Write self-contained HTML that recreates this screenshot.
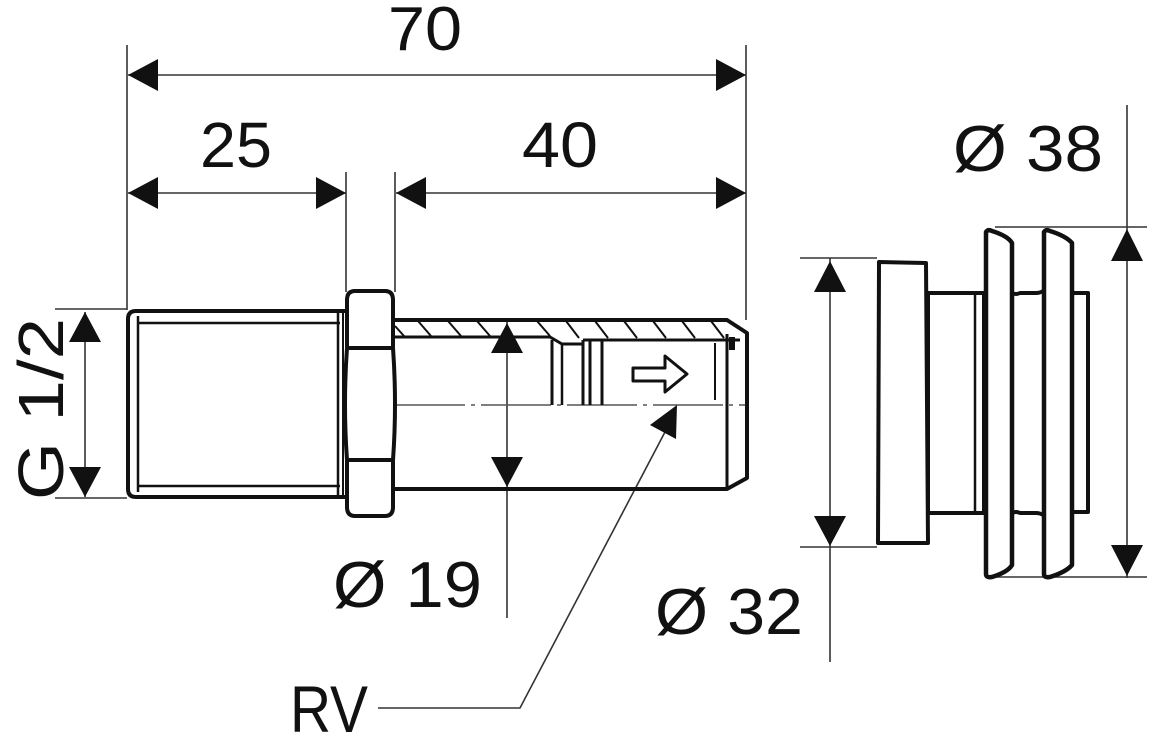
<!DOCTYPE html>
<html><head><meta charset="utf-8"><style>
html,body{margin:0;padding:0;background:#fff;}
svg{display:block;}
text{font-family:"Liberation Sans",sans-serif;fill:#111;}
</style></head><body>
<svg width="1152" height="736" viewBox="0 0 1152 736" xmlns="http://www.w3.org/2000/svg">
<rect width="1152" height="736" fill="#fff"/>
<!-- thin dimension / extension lines -->
<g stroke="#333" stroke-width="1.6" fill="none">
  <line x1="127" y1="45" x2="127" y2="310"/>
  <line x1="746" y1="45" x2="746" y2="320"/>
  <line x1="346" y1="172" x2="346" y2="292"/>
  <line x1="395" y1="172" x2="395" y2="292"/>
  <line x1="128" y1="75" x2="746" y2="75"/>
  <line x1="128" y1="193" x2="346" y2="193"/>
  <line x1="396" y1="193" x2="746" y2="193"/>
  <!-- G 1/2 -->
  <line x1="85" y1="312" x2="85" y2="497"/>
  <line x1="55" y1="309" x2="127" y2="309"/>
  <line x1="55" y1="498" x2="127" y2="498"/>
  <!-- Ø19 -->
  <line x1="507" y1="322" x2="507" y2="618"/>
  <!-- RV leader -->
  <polyline points="378,708 520,708 665,432"/>
  <!-- Ø32 -->
  <line x1="830" y1="258" x2="830" y2="662"/>
  <line x1="800" y1="258" x2="877" y2="258"/>
  <line x1="800" y1="547" x2="877" y2="547"/>
  <!-- Ø38 -->
  <line x1="1127" y1="105" x2="1127" y2="578"/>
  <line x1="995" y1="227" x2="1147" y2="227"/>
  <line x1="995" y1="577" x2="1147" y2="577"/>
  <!-- centre line -->
  <line x1="395" y1="405" x2="745" y2="405" stroke="#555" stroke-width="1.4" stroke-dasharray="70 6 4 6"/>
</g>
<!-- arrowheads -->
<g fill="#111">
  <polygon points="128,75 158,59 158,91"/>
  <polygon points="746,75 716,59 716,91"/>
  <polygon points="128,193 158,177 158,209"/>
  <polygon points="346,193 316,177 316,209"/>
  <polygon points="396,193 426,177 426,209"/>
  <polygon points="746,193 716,177 716,209"/>
  <polygon points="85,312 69,342 101,342"/>
  <polygon points="85,497 69,467 101,467"/>
  <polygon points="507,323 491,353 523,353"/>
  <polygon points="507,487 491,457 523,457"/>
  <polygon points="677,405 650,425 676,439"/>
  <polygon points="830,261 814,292 846,292"/>
  <polygon points="830,546 814,516 846,516"/>
  <polygon points="1127,229 1111,261 1143,261"/>
  <polygon points="1127,576 1111,545 1143,545"/>
</g>
<!-- thread part -->
<g stroke="#111" fill="none" stroke-linejoin="round">
  <path d="M345,311 L136,311 Q128,311 128,319 L128,489 Q128,497 136,497 L345,497" stroke-width="4"/>
  <line x1="138" y1="323" x2="340" y2="323" stroke-width="2.5"/>
  <line x1="138" y1="486" x2="340" y2="486" stroke-width="2.5"/>
  <line x1="138" y1="316" x2="138" y2="492" stroke-width="2.5"/>
  <line x1="338" y1="313" x2="338" y2="495" stroke-width="2.5"/>
  <line x1="343" y1="313" x2="343" y2="495" stroke-width="2"/>
  <!-- hex nut -->
  <path d="M355,291 L385,291 Q393,291 393,300 L393,348 L347,348 L347,300 Q347,291 355,291 Z" stroke-width="4"/>
  <path d="M347,348 Q343,404 347,460 L393,460 Q397,404 393,348" stroke-width="4"/>
  <path d="M347,460 L393,460 L393,507 Q393,516 385,516 L355,516 Q347,516 347,507 Z" stroke-width="4"/>
  <!-- body -->
  <path d="M393,320 L727,320 L747,333 L747,478 L727,489 L393,489" stroke-width="4"/>
  <path d="M393,337 L550,337 L562,344 L583,344" stroke-width="3"/>
  <line x1="583" y1="340" x2="740" y2="340" stroke-width="3"/>
  <line x1="727" y1="334" x2="727" y2="488" stroke-width="3"/>
  <line x1="715" y1="343" x2="715" y2="400" stroke-width="2"/>
  <line x1="552" y1="340" x2="552" y2="405" stroke-width="3"/>
  <line x1="562" y1="344" x2="562" y2="405" stroke-width="2.5"/>
  <line x1="583" y1="340" x2="583" y2="405" stroke-width="3"/>
  <line x1="590" y1="340" x2="590" y2="405" stroke-width="3"/>
  <line x1="602" y1="340" x2="602" y2="405" stroke-width="3"/>
  <g stroke-width="2">
    <line x1="395" y1="326" x2="404" y2="336"/>
    <line x1="418" y1="321" x2="431" y2="336"/>
    <line x1="448" y1="321" x2="461" y2="336"/>
    <line x1="477" y1="321" x2="490" y2="336"/>
    <line x1="537" y1="321" x2="550" y2="336"/>
    <line x1="566" y1="321" x2="579" y2="338"/>
    <line x1="595" y1="321" x2="608" y2="338"/>
    <line x1="624" y1="321" x2="637" y2="338"/>
    <line x1="653" y1="321" x2="666" y2="338"/>
    <line x1="682" y1="321" x2="695" y2="338"/>
    <line x1="711" y1="321" x2="724" y2="338"/>
  </g>
  <rect x="729" y="337" width="6" height="13" fill="#111" stroke="none"/>
  <!-- flow arrow -->
  <path d="M633,368 L665,368 L665,356 L687,374 L665,392 L665,381 L633,381 Z" stroke-width="3" fill="#fff"/>
</g>
<!-- right part -->
<g stroke="#111" fill="none" stroke-width="4" stroke-linejoin="round">
  <path d="M879,262 L926,263 L928,543 L878,543 Z"/>
  <rect x="928" y="293" width="56" height="220"/>
  <line x1="975" y1="295" x2="975" y2="511" stroke-width="2.5"/>
  <path d="M986,232 Q988,229 992,231 Q1008,236 1012,243 L1012,565 Q1008,572 992,577 Q986,578 986,574 Z" stroke-width="4.5"/>
  <path d="M1012,293 Q1016,295 1020,293 L1036,293 Q1040,293 1043,291"/>
  <path d="M1012,513 Q1016,511 1020,513 L1036,513 Q1040,513 1043,515"/>
  <path d="M1044,232 Q1046,229 1050,231 Q1066,236 1072,243 L1072,565 Q1066,572 1050,577 Q1044,578 1044,574 Z" stroke-width="4.5"/>
  <rect x="1072" y="293" width="16" height="219"/>
</g>
<!-- texts -->
<text x="388" y="50" font-size="62" textLength="74" lengthAdjust="spacingAndGlyphs">70</text>
<text x="200" y="167" font-size="64" textLength="72" lengthAdjust="spacingAndGlyphs">25</text>
<text x="522" y="167" font-size="64" textLength="76" lengthAdjust="spacingAndGlyphs">40</text>
<text x="953" y="171" font-size="65" textLength="150" lengthAdjust="spacingAndGlyphs">Ø 38</text>
<text x="333" y="607" font-size="65" textLength="149" lengthAdjust="spacingAndGlyphs">Ø 19</text>
<text x="655" y="634" font-size="65" textLength="148" lengthAdjust="spacingAndGlyphs">Ø 32</text>
<text x="290" y="732" font-size="66" textLength="78" lengthAdjust="spacingAndGlyphs">RV</text>
<text transform="translate(63,500) rotate(-90)" x="0" y="0" font-size="64" textLength="182" lengthAdjust="spacingAndGlyphs">G 1/2</text>
</svg>
</body></html>
